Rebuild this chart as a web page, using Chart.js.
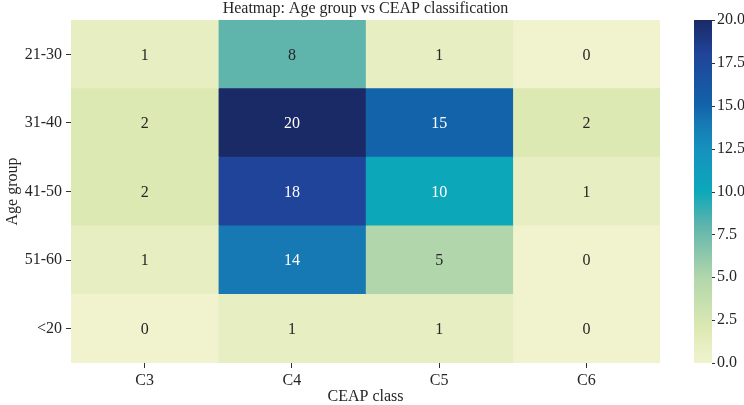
<!DOCTYPE html>
<html><head><meta charset="utf-8">
<script src="https://cdn.jsdelivr.net/npm/chart.js@4/dist/chart.umd.min.js"></script>
<style>html,body{margin:0;padding:0;background:#fff}#wrap{width:744px;height:405px;position:relative}</style>
</head><body><div id="wrap"><canvas id="c"></canvas></div>
<script>
// ---- data ----
const ageGroups = ['21-30', '31-40', '41-50', '51-60', '<20'];
const ceapClasses = ['C3', 'C4', 'C5', 'C6'];
const countsC3 = [1, 2, 2, 1, 0];
const countsC4 = [8, 20, 18, 14, 1];
const countsC5 = [1, 15, 10, 5, 1];
const countsC6 = [0, 2, 1, 0, 0];
const colorbarTicks = [0, 2.5, 5, 7.5, 10, 12.5, 15, 17.5, 20];
const vmin = 0, vmax = 20;

// ---- colormap (YlGnBu-like as printed) ----
const cmapStops = [
  [0.00, '#f0f3cd'], [0.05, '#e7efc2'], [0.10, '#dde9b3'], [0.25, '#b1d6ab'],
  [0.40, '#5fb5ac'], [0.50, '#0ca8ba'], [0.62, '#1592be'], [0.70, '#1779b4'],
  [0.75, '#1263aa'], [0.90, '#20449a'], [1.00, '#1a2a66']
];
function hex2rgb(h){return [1,3,5].map(i=>parseInt(h.substr(i,2),16));}
function cmap(t){
  t=Math.max(0,Math.min(1,t));
  for(let i=1;i<cmapStops.length;i++){
    const [t1,c1]=cmapStops[i];
    if(t<=t1){
      const [t0,c0]=cmapStops[i-1];
      const f=(t-t0)/(t1-t0||1);
      const a=hex2rgb(c0), b=hex2rgb(c1);
      return 'rgb('+a.map((v,k)=>Math.round(v+(b[k]-v)*f)).join(',')+')';
    }
  }
  return cmapStops[cmapStops.length-1][1];
}

const columns = [countsC3, countsC4, countsC5, countsC6];
const FONT = "'Liberation Serif','DejaVu Serif',serif";
const FS = 16;
const TXT = '#262626';

const annotate = {
  id: 'annotate',
  afterDatasetsDraw(chart){
    const ctx = chart.ctx;
    ctx.save();
    ctx.font = FS + 'px ' + FONT;
    ctx.textAlign = 'center';
    ctx.textBaseline = 'middle';
    chart.data.datasets.forEach((ds, j) => {
      const meta = chart.getDatasetMeta(j);
      meta.data.forEach((el, i) => {
        const v = ds.counts[i];
        const p = el.getCenterPoint();
        ctx.fillStyle = (v - vmin) / (vmax - vmin) >= 0.45 ? '#ffffff' : TXT;
        ctx.fillText(String(v), p.x, p.y + 1);
      });
    });
    ctx.restore();
  }
};

const colorbar = {
  id: 'colorbar',
  afterDraw(chart){
    const s = chart.scales.cb;
    const ctx = chart.ctx;
    const x0 = chart.chartArea.right + 34, w = 18;
    const yTop = s.getPixelForValue(vmax), yBot = s.getPixelForValue(vmin);
    const g = ctx.createLinearGradient(0, yBot, 0, yTop);
    cmapStops.forEach(([t, c]) => g.addColorStop(t, c));
    ctx.save();
    ctx.fillStyle = g;
    ctx.fillRect(x0, yTop, w, yBot - yTop);
    ctx.strokeStyle = '#333';
    ctx.lineWidth = 1;
    colorbarTicks.forEach(v => {
      const y = Math.round(s.getPixelForValue(v)) + 0.5;
      ctx.beginPath(); ctx.moveTo(x0 + w, y); ctx.lineTo(x0 + w + 3, y); ctx.stroke();
    });
    ctx.restore();
  }
};

new Chart(document.getElementById('c'), {
  type: 'bar',
  data: {
    labels: ageGroups,
    datasets: ceapClasses.map((c, j) => ({
      label: c,
      counts: columns[j],
      data: ageGroups.map(() => 1),
      backgroundColor: columns[j].map(v => cmap((v - vmin) / (vmax - vmin))),
      borderWidth: 0,
      barPercentage: 1,
      categoryPercentage: 1
    }))
  },
  options: {
    indexAxis: 'y',
    responsive: true,
    maintainAspectRatio: false,
    animation: false,
    layout: { padding: 0 },
    plugins: {
      legend: { display: false },
      tooltip: { enabled: false },
      title: {
        display: true,
        fullSize: false,
        text: 'Heatmap: Age group vs CEAP classification',
        color: TXT,
        font: { family: FONT, size: FS, weight: 'normal', lineHeight: 1.1 },
        padding: { top: 0, bottom: 2.4 }
      }
    },
    scales: {
      x: {
        type: 'linear', stacked: true, min: 0, max: 4, position: 'bottom',
        afterBuildTicks: s => { s.ticks = ceapClasses.map((_, j) => ({ value: j + 0.5 })); },
        afterFit: s => { s.height = 42; },
        ticks: { callback: (v, i) => ceapClasses[i], color: TXT, padding: 3,
                 font: { family: FONT, size: FS, lineHeight: 1.2 }, maxRotation: 0 },
        grid: { display: true, drawOnChartArea: false, drawTicks: true, tickLength: 5, color: '#333' },
        border: { display: false },
        title: { display: true, text: 'CEAP class', color: TXT, padding: { top: 0, bottom: 0 },
                 font: { family: FONT, size: FS, lineHeight: 1 } }
      },
      y: {
        type: 'category', stacked: true, position: 'left',
        afterFit: s => { s.width = 71; s.paddingTop = 0; s.paddingBottom = 0; },
        ticks: { color: TXT, padding: 4, font: { family: FONT, size: FS } },
        grid: { display: true, offset: false, drawOnChartArea: false, drawTicks: true, tickLength: 5, color: '#333' },
        border: { display: false },
        title: { display: true, text: 'Age group', color: TXT, padding: { top: 5, bottom: 0 },
                 font: { family: FONT, size: FS, lineHeight: 1 } }
      },
      cb: {
        type: 'linear', axis: 'y', position: 'right', min: vmin, max: vmax, offset: false,
        afterBuildTicks: s => { s.ticks = colorbarTicks.map(v => ({ value: v })); },
        afterFit: s => { s.width = 84; s.paddingTop = 0; s.paddingBottom = 0; },
        ticks: { callback: v => Number(v).toFixed(1), color: TXT, padding: 57,
                 font: { family: FONT, size: FS } },
        grid: { display: false, drawTicks: false, offset: false },
        border: { display: false }
      }
    }
  },
  plugins: [annotate, colorbar]
});
</script>
</body></html>
